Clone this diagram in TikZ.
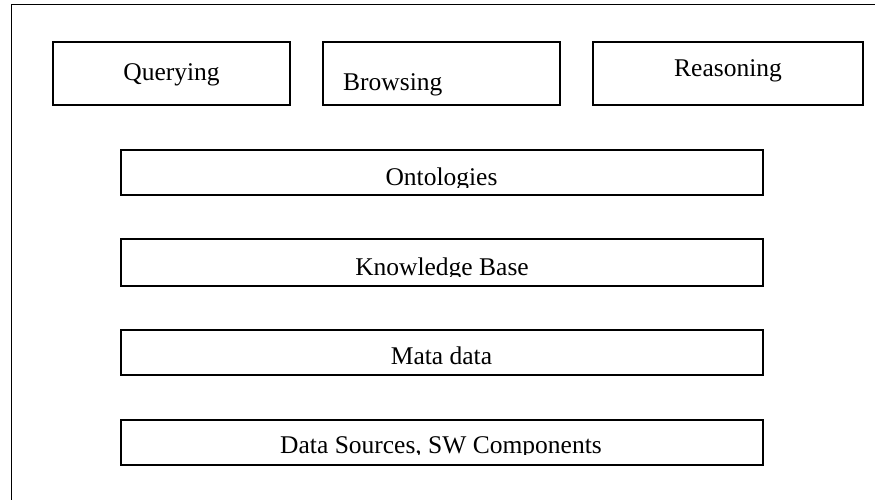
\documentclass[tikz,border=0pt]{standalone}
\usepackage{fontspec}
\setmainfont{Liberation Serif}
\begin{document}
\begin{tikzpicture}[x=1pt,y=-1pt,
  layerbox/.style={draw=black,line width=1.8pt,rectangle,inner sep=0pt,fill=none},
  lbl/.style={inner sep=0pt,anchor=base,font=\fontsize{25.5}{30}\selectfont}]
\useasboundingbox (0,0) rectangle (875,499);
\clip (0,0) rectangle (875,499);
% outer frame (left and top edges visible)
\draw[line width=1.8pt] (11.5,510) -- (11.5,4.5) -- (890,4.5);

% top row of services
\node[layerbox,minimum width=237pt,minimum height=63pt] (query) at (171.5,73.5) {};
\node[layerbox,minimum width=237pt,minimum height=63pt] (browse) at (441.5,73.5) {};
\node[layerbox,minimum width=270pt,minimum height=63pt] (reason) at (728,73.5) {};
\node[lbl] (queryt) at (171.5,80) {Querying};
\node[lbl,anchor=base west] (browset) at (343,90) {Browsing};
\node[lbl] (reasont) at (728,76) {Reasoning};

% stacked layers
\node[layerbox,minimum width=642pt,minimum height=45pt] (onto) at (442,172.5) {};
\node[layerbox,minimum width=642pt,minimum height=47pt] (kb) at (442,262.5) {};
\node[layerbox,minimum width=642pt,minimum height=45pt] (meta) at (442,352.5) {};
\node[layerbox,minimum width=642pt,minimum height=45pt] (data) at (442,442.5) {};

\begin{scope}
  \clip (121,150) rectangle (763,187);
  \node[lbl] (ontot) at (441.5,185.5) {Ontologies};
\end{scope}
\begin{scope}
  \clip (121,239) rectangle (763,276.8);
  \node[lbl] (kbt) at (442,275) {Knowledge Base};
\end{scope}
\node[lbl] (metat) at (441.5,364) {Mata data};
\begin{scope}
  \clip (121,420) rectangle (763,454.2);
  \node[lbl] (datat) at (441,453) {Data Sources, SW Components};
\end{scope}
\end{tikzpicture}
\end{document}
